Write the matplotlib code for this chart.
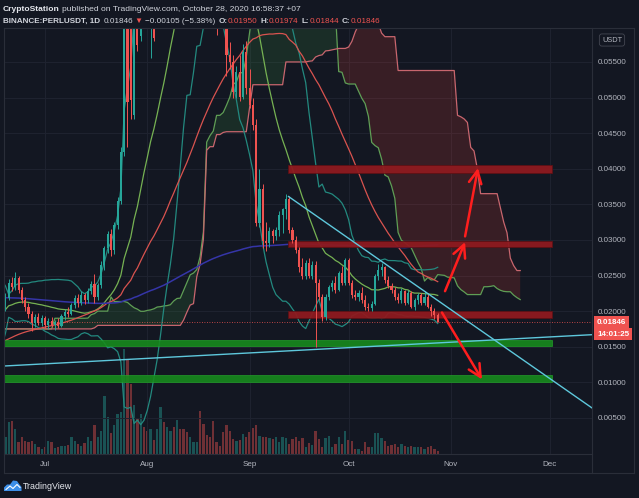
import numpy as np
import pandas as pd
import matplotlib
matplotlib.use("Agg")
import matplotlib.pyplot as plt
from matplotlib.lines import Line2D
from matplotlib.patches import Rectangle, Polygon
from matplotlib.ticker import FuncFormatter
import matplotlib.transforms as mtransforms

W, H = 639, 498
BG = "#131722"
UP = "#26a69a"
DOWN = "#ef5350"
FRAME = "#2a2e39"
TEXT = "#d1d4dc"
AXIS_TEXT = "#b2b5be"

plt.rcParams["font.family"] = ["Liberation Sans", "DejaVu Sans"]

# daily candles BINANCE:PERLUSDT, 19 Jun - 28 Oct 2020
first_day = "2020-06-19"
opens = [
    0.0209, 0.0219, 0.0240, 0.0234, 0.0246, 0.0229, 0.0216, 0.0206, 0.0196, 0.0184, 0.0192, 0.0184,
    0.0190, 0.0181, 0.0186, 0.0180, 0.0185, 0.0179, 0.0193, 0.0199, 0.0196, 0.0209, 0.0218, 0.0211,
    0.0222, 0.0215, 0.0228, 0.0238, 0.0220, 0.0236, 0.0265, 0.0288, 0.0308, 0.0286, 0.0321, 0.0354,
    0.0424, 0.0650, 0.0660, 0.0476, 0.0690, 0.0587, 0.0700,
    0.0680, 0.0650, 0.0660, 0.0620, 0.0650, 0.0670, 0.0660, 0.0740, 0.0800, 0.0770, 0.0790, 0.0780,
    0.0760, 0.0750, 0.0790, 0.0800, 0.0820, 0.0805, 0.0760, 0.0720, 0.0710, 0.0680, 0.0630, 0.0620,
    0.0600, 0.0560, 0.0550, 0.0508, 0.0536, 0.0501, 0.0564,
    0.0514, 0.0490, 0.0462, 0.0324, 0.0371, 0.0298, 0.0296, 0.0312, 0.0305, 0.0314, 0.0335, 0.0343,
    0.0357, 0.0314, 0.0300, 0.0286, 0.0262, 0.0249, 0.0268, 0.0250, 0.0265, 0.0240, 0.0220, 0.0192,
    0.0220, 0.0234, 0.0240, 0.0230, 0.0254, 0.0240,
    0.0272, 0.0240, 0.0222, 0.0220, 0.0226, 0.0216, 0.0206, 0.0204, 0.0210, 0.0249, 0.0258, 0.0262,
    0.0244, 0.0235, 0.0230, 0.0220, 0.0216, 0.0228, 0.0212, 0.0226, 0.0206, 0.0216, 0.0222, 0.0212,
    0.0220, 0.0206, 0.0200, 0.0195,
]
highs = [
    0.0226, 0.0245, 0.0248, 0.0255, 0.0250, 0.0234, 0.0220, 0.0212, 0.0200, 0.0196, 0.0198, 0.0194,
    0.0193, 0.0190, 0.0192, 0.0188, 0.0190, 0.0196, 0.0203, 0.0206, 0.0212, 0.0222, 0.0224, 0.0228,
    0.0226, 0.0232, 0.0242, 0.0252, 0.0240, 0.0270, 0.0292, 0.0312, 0.0316, 0.0325, 0.0360, 0.0430,
    0.0680, 0.0690, 0.0688, 0.0724, 0.0720, 0.0730, 0.0732,
    0.0725, 0.0700, 0.0690, 0.0690, 0.0730, 0.0728, 0.0800, 0.0864, 0.0860, 0.0850, 0.0860, 0.0855,
    0.0840, 0.0850, 0.0860, 0.0864, 0.0862, 0.0926, 0.0800, 0.0796, 0.0790, 0.0780, 0.0710, 0.0700,
    0.0650, 0.0578, 0.0560, 0.0545, 0.0560, 0.0575, 0.0580,
    0.0540, 0.0500, 0.0470, 0.0399, 0.0378, 0.0325, 0.0318, 0.0316, 0.0318, 0.0340, 0.0345, 0.0364,
    0.0362, 0.0318, 0.0305, 0.0290, 0.0275, 0.0272, 0.0275, 0.0270, 0.0270, 0.0245, 0.0224, 0.0224,
    0.0236, 0.0244, 0.0250, 0.0256, 0.0264, 0.0275,
    0.0274, 0.0244, 0.0230, 0.0230, 0.0234, 0.0222, 0.0212, 0.0214, 0.0252, 0.0266, 0.0268, 0.0264,
    0.0250, 0.0240, 0.0234, 0.0226, 0.0232, 0.0230, 0.0230, 0.0228, 0.0218, 0.0226, 0.0226, 0.0228,
    0.0224, 0.0210, 0.0204, 0.01974,
]
lows = [
    0.0200, 0.0216, 0.0228, 0.0230, 0.0225, 0.0212, 0.0200, 0.0190, 0.0172, 0.0178, 0.0180, 0.0179,
    0.0176, 0.0175, 0.0178, 0.0174, 0.0176, 0.0177, 0.0188, 0.0192, 0.0194, 0.0205, 0.0206, 0.0208,
    0.0210, 0.0212, 0.0224, 0.0212, 0.0216, 0.0232, 0.0258, 0.0282, 0.0278, 0.0280, 0.0316, 0.0350,
    0.0418, 0.0430, 0.0470, 0.0470, 0.0565, 0.0580, 0.0640,
    0.0620, 0.0556, 0.0580, 0.0605, 0.0630, 0.0640, 0.0650, 0.0720, 0.0750, 0.0750, 0.0760, 0.0740,
    0.0730, 0.0730, 0.0770, 0.0780, 0.0790, 0.0750, 0.0700, 0.0690, 0.0660, 0.0588, 0.0605, 0.0598,
    0.0530, 0.0540, 0.0500, 0.0500, 0.0495, 0.0498, 0.0505,
    0.0485, 0.0455, 0.0320, 0.0318, 0.0288, 0.0285, 0.0290, 0.0295, 0.0300, 0.0305, 0.0310, 0.0330,
    0.0310, 0.0296, 0.0282, 0.0255, 0.0245, 0.0245, 0.0246, 0.0245, 0.0150, 0.0215, 0.0186, 0.0188,
    0.0216, 0.0228, 0.0226, 0.0228, 0.0236, 0.0236,
    0.0236, 0.0218, 0.0216, 0.0214, 0.0212, 0.0202, 0.0200, 0.0200, 0.0208, 0.0244, 0.0250, 0.0240,
    0.0232, 0.0226, 0.0216, 0.0212, 0.0212, 0.0208, 0.0210, 0.0204, 0.0202, 0.0210, 0.0208, 0.0208,
    0.0204, 0.0193, 0.0189, 0.01844,
]
closes = [
    0.0219, 0.0240, 0.0234, 0.0246, 0.0229, 0.0216, 0.0206, 0.0196, 0.0184, 0.0192, 0.0184, 0.0190,
    0.0181, 0.0186, 0.0180, 0.0185, 0.0179, 0.0193, 0.0199, 0.0196, 0.0209, 0.0218, 0.0211, 0.0222,
    0.0215, 0.0228, 0.0238, 0.0220, 0.0236, 0.0265, 0.0288, 0.0308, 0.0286, 0.0321, 0.0354, 0.0424,
    0.0650, 0.0494, 0.0497, 0.0690, 0.0574, 0.0700, 0.0680,
    0.0650, 0.0660, 0.0584, 0.0650, 0.0670, 0.0660, 0.0740, 0.0800, 0.0770, 0.0790, 0.0780, 0.0760,
    0.0750, 0.0790, 0.0800, 0.0820, 0.0805, 0.0760, 0.0720, 0.0710, 0.0680, 0.0630, 0.0620, 0.0600,
    0.0560, 0.0550, 0.0508, 0.0536, 0.0501, 0.0564, 0.0514,
    0.0490, 0.0462, 0.0324, 0.0371, 0.0298, 0.0296, 0.0312, 0.0305, 0.0314, 0.0335, 0.0343, 0.0357,
    0.0314, 0.0300, 0.0286, 0.0262, 0.0249, 0.0268, 0.0250, 0.0265, 0.0240, 0.0220, 0.0192, 0.0220,
    0.0234, 0.0240, 0.0230, 0.0254, 0.0240, 0.0272,
    0.0240, 0.0222, 0.0220, 0.0226, 0.0216, 0.0206, 0.0204, 0.0210, 0.0249, 0.0258, 0.0262, 0.0244,
    0.0235, 0.0230, 0.0220, 0.0216, 0.0228, 0.0212, 0.0226, 0.0206, 0.0216, 0.0222, 0.0212, 0.0220,
    0.0206, 0.0200, 0.0195, 0.01846,
]
# volume, millions of PERL
volume_m = [
    17, 32, 33, 25, 12, 17, 13, 12, 13, 10, 7, 5, 7, 13, 12, 6, 7, 8, 8, 9,
    17, 13, 10, 8, 11, 17, 13, 29, 17, 23, 58, 37, 21, 29, 40, 42, 105, 95, 70, 49,
    35, 40, 27, 23, 25, 14, 25, 47, 32, 27, 23, 27, 34, 25, 25, 22, 17, 12, 12, 43,
    30, 19, 17, 33, 12, 8, 22, 29, 23, 15, 13, 14, 20, 17, 22, 26, 29, 18, 17, 17,
    16, 15, 17, 12, 17, 16, 10, 15, 17, 13, 16, 7, 11, 9,
    23, 15, 7, 16, 18, 7, 10, 17, 10, 23, 14, 13, 5, 5, 3, 12, 7, 7, 21, 21,
    16, 13, 8, 9, 10, 7, 10, 8, 7, 8, 7, 7, 7, 5, 7, 8, 5, 3,
]

# rough price regimes before 19 Jun (days, close, high, low), oldest first;
# only needed so the long moving averages and the cloud have history
earlier_regimes = [(130, 0.0265, 0.0285, 0.0245), (60, 0.0130, 0.0245, 0.0105),
                   (18, 0.0205, 0.0225, 0.0185)]

# drawings
red_zones = [(0.03947, 0.0405), (0.02906, 0.0299), (0.01897, 0.0200)]
red_zone_span = ("2020-09-12 17:00", "2020-12-01 14:00")
green_zones = [(0.0151, 0.0159), (0.0100, 0.0110)]
green_zone_span = ("2020-06-01", "2020-12-01 14:00")
falling_trend = [("2020-09-12 19:00", 0.0361), ("2020-11-10", 0.0173)]
rising_trend = [("2020-06-19", 0.0123), ("2020-11-28", 0.0163)]
arrows = [
    (("2020-10-29 07:00", 0.0198), ("2020-11-10 10:00", 0.0104)),
    (("2020-10-30 05:00", 0.0228), ("2020-11-05 07:00", 0.0297)),
    (("2020-11-05 07:00", 0.0305), ("2020-11-09 05:00", 0.0401)),
]
last_price = 0.01846
countdown = "14:01:25"
months = ["2020-07-01", "2020-08-01", "2020-09-01", "2020-10-01", "2020-11-01", "2020-12-01"]
month_labels = ["Jul", "Aug", "Sep", "Oct", "Nov", "Dec"]

ORIGIN = pd.Timestamp("2020-07-01")


def day(s):
    return (pd.Timestamp(s) - ORIGIN) / pd.Timedelta(days=1)


def fx(px):
    return px / W


def fy(py):
    return 1 - py / H


o = np.array(opens)
h = np.array(highs)
l = np.array(lows)
c = np.array(closes)
x = np.arange(len(c)) + day(first_day)
cols = np.where(c >= o, UP, DOWN)

# indicators over earlier regimes + visible candles
pre_c = np.concatenate([np.full(n, v) for n, v, _, _ in earlier_regimes])
pre_h = np.concatenate([np.full(n, v) for n, _, v, _ in earlier_regimes])
pre_l = np.concatenate([np.full(n, v) for n, _, _, v in earlier_regimes])
full_c = pd.Series(np.concatenate([pre_c, c]))
full_h = pd.Series(np.concatenate([pre_h, h]))
full_l = pd.Series(np.concatenate([pre_l, l]))
full_x = np.arange(len(full_c)) + x[0] - len(pre_c)

basis = full_c.rolling(20).mean()
dev = full_c.rolling(20).std(ddof=0)
upper = basis + 2 * dev
lower = basis - 2 * dev
sma50 = full_c.rolling(50).mean()
sma200 = full_c.rolling(200).mean()


def midpoint(n):
    return (full_h.rolling(n).max() + full_l.rolling(n).min()) / 2


span_a = ((midpoint(9) + midpoint(26)) / 2).values
span_b = midpoint(52).values
cloud_x = full_x + 25

fig = plt.figure(figsize=(W / 100, H / 100), dpi=100, facecolor=BG)
rect = [fx(4), fy(453.5), fx(592) - fx(4), fy(28.5) - fy(453.5)]
ax_v = fig.add_axes(rect, facecolor=BG)
ax = fig.add_axes(rect, sharex=ax_v)
ax.patch.set_visible(False)

x_left, x_right = day("2020-06-18 14:00"), day("2020-12-13 18:00")
ax.set_xlim(x_left, x_right)
ax.set_ylim(0, 0.0597)

# volume
ax_v.bar(x, volume_m, width=0.7, color=cols, alpha=0.42, lw=0)
ax_v.set_ylim(0, 425)
ax_v.set_yticks([])
for s in ax_v.spines.values():
    s.set_visible(False)
ax_v.tick_params(axis="x", length=0, labelbottom=False)

# grid + axes
ax.set_yticks(np.arange(0.005, 0.0551, 0.005))
ax.yaxis.tick_right()
ax.yaxis.set_major_formatter(FuncFormatter(lambda v, p: "%.5f" % v))
ax.set_xticks([day(m) for m in months])
ax.set_xticklabels(month_labels)
ax.tick_params(axis="y", length=0, pad=3.8, labelsize=5.8, labelcolor=AXIS_TEXT)
ax.tick_params(axis="x", length=0, pad=5.5, labelsize=5.8, labelcolor=AXIS_TEXT)
ax.grid(True, color="#1f2330", lw=0.7)
ax.set_axisbelow(True)
for s in ax.spines.values():
    s.set_visible(False)

# ichimoku cloud
ax.fill_between(cloud_x, span_a, span_b, where=span_a >= span_b, interpolate=True,
                color="#43a047", alpha=0.16, lw=0, zorder=1)
ax.fill_between(cloud_x, span_a, span_b, where=span_a < span_b, interpolate=True,
                color="#f44336", alpha=0.17, lw=0, zorder=1)
ax.plot(cloud_x, span_a, color="#5f9e55", lw=0.9, zorder=2)
ax.plot(cloud_x, span_b, color="#c8666e", lw=0.9, zorder=2)

# bollinger + moving averages
ax.plot(full_x, upper, color="#23897f", lw=0.9, zorder=2)
ax.plot(full_x, lower, color="#23897f", lw=0.9, zorder=2)
ax.plot(full_x, basis, color="#76b253", lw=0.9, zorder=2)
ax.plot(full_x, sma50, color="#d9534f", lw=0.9, zorder=2)
ax.plot(full_x, sma200, color="#3535a8", lw=1.1, zorder=2)

# zones
for lo, hi in red_zones:
    x0, x1 = day(red_zone_span[0]), day(red_zone_span[1])
    ax.add_patch(Rectangle((x0, lo), x1 - x0, hi - lo, fc="#8e1a1f", ec="#5e1014",
                           lw=0.6, alpha=0.95, zorder=3))
for lo, hi in green_zones:
    x0, x1 = day(green_zone_span[0]), day(green_zone_span[1])
    ax.add_patch(Rectangle((x0, lo), x1 - x0, hi - lo, fc="#178a1d", ec="#24a52b",
                           lw=0.5, alpha=0.9, zorder=3))

ax.axhline(last_price, color=DOWN, lw=0.6, ls=(0, (1, 2)), zorder=3)

# candles
ax.vlines(x, l, h, colors=cols, lw=0.7, zorder=5)
ax.bar(x, np.maximum(np.abs(c - o), 0.00008), width=0.62, bottom=np.minimum(o, c),
       color=cols, lw=0, zorder=5)

# trend lines
(ta, pa), (tb, pb) = falling_trend
slope = (pb - pa) / (day(tb) - day(ta))
ax.plot([day(ta), x_right], [pa, pa + slope * (x_right - day(ta))],
        color="#5ec8dc", lw=1.0, zorder=6)
(ta, pa), (tb, pb) = rising_trend
ax.axline((day(ta), pa), (day(tb), pb), color="#5ec8dc", lw=1.0, zorder=6)

for (t0, p0), (t1, p1) in arrows:
    ax.annotate("", xy=(day(t1), p1), xytext=(day(t0), p0),
                arrowprops=dict(arrowstyle="->,head_length=0.9,head_width=0.45",
                                color="#ff1e1e", lw=1.8, shrinkA=0, shrinkB=0),
                zorder=7)

# price label + countdown
blend = mtransforms.blended_transform_factory(ax.transAxes, ax.transData)
ax.annotate("0.01846", xy=(1, last_price), xycoords=blend, xytext=(5, 0),
            textcoords="offset pixels", va="center", ha="left", fontsize=5.8,
            color="white", weight="bold", annotation_clip=False,
            bbox=dict(boxstyle="square,pad=0.35", fc=DOWN, ec="none"))
ax.annotate(countdown, xy=(1, last_price), xycoords=blend, xytext=(5, -12),
            textcoords="offset pixels", va="center", ha="left", fontsize=5.8,
            color="white", weight="bold", annotation_clip=False,
            bbox=dict(boxstyle="square,pad=0.35", fc=DOWN, ec="none"))

fig.text(fx(612), fy(40), "USDT", ha="center", va="center", fontsize=5.3, color=AXIS_TEXT,
         bbox=dict(boxstyle="round,pad=0.35", fc=BG, ec="#434651", lw=0.6))

# frame lines
for (xa, ya), (xb, yb) in [((4, 28.5), (634, 28.5)), ((4, 473), (634, 473)),
                           ((4, 453.5), (592, 453.5)), ((4, 28.5), (4, 473)),
                           ((592, 28.5), (592, 473)), ((634, 28.5), (634, 473))]:
    fig.add_artist(Line2D([fx(xa), fx(xb)], [fy(ya), fy(yb)], color=FRAME, lw=0.8))

# header, laid out run by run
renderer = fig.canvas.get_renderer()


def write_runs(runs, baseline, size):
    xpos = 3
    for txt, gap, wt, col in runs:
        t = fig.text(fx(xpos), fy(baseline), txt, fontsize=size, weight=wt, color=col,
                     va="baseline")
        xpos = t.get_window_extent(renderer).x1 + gap


write_runs([("CryptoStation", 2.6, "bold", "#e6e8ee"),
            ("published on TradingView.com, October 28, 2020 16:58:37 +07", 0, "normal", TEXT)],
           10.8, 6.1)
write_runs([("BINANCE:PERLUSDT, 1D", 3.0, "bold", TEXT), ("0.01846", 2.0, "normal", TEXT),
            ("\u25bc", 2.2, "normal", DOWN), ("\u22120.00105 (\u22125.38%)", 3.0, "normal", TEXT),
            ("O:", 0.2, "bold", TEXT), ("0.01950", 2.8, "normal", DOWN),
            ("H:", 0.2, "bold", TEXT), ("0.01974", 2.8, "normal", DOWN),
            ("L:", 0.2, "bold", TEXT), ("0.01844", 2.8, "normal", DOWN),
            ("C:", 0.2, "bold", TEXT), ("0.01846", 0, "normal", DOWN)],
           23, 5.85)

# TradingView logo
cloud = [(4, 491), (4, 487.5), (7, 484.5), (10, 484.5), (13, 480.5), (17, 481), (19.5, 484.5),
         (21.5, 487), (21.5, 491)]
fig.add_artist(Polygon([(fx(a), fy(b)) for a, b in cloud], closed=True, fc="#3d8fe8", ec="none"))
zig = [(6, 489.5), (10, 486), (13, 488.5), (17, 484.5), (20, 487.5)]
fig.add_artist(Line2D([fx(a) for a, b in zig], [fy(b) for a, b in zig], color="white", lw=0.8))
fig.text(fx(23), fy(489), "TradingView", fontsize=6.4, color="#e6e8ee", va="baseline")

fig.savefig("out.png", dpi=100, facecolor=BG)
